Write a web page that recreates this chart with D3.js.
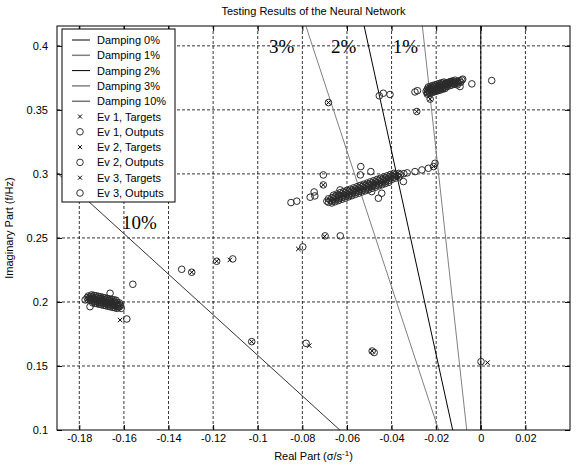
<!DOCTYPE html>
<html><head><meta charset="utf-8">
<script src="https://cdn.jsdelivr.net/npm/d3@7"></script>
<style>body{margin:0;background:#fff} text{font-family:Arial,"Liberation Sans",sans-serif;}</style>
</head><body><svg id="c" width="586" height="468"></svg>
<script>
const xTicks = [-0.18,-0.16,-0.14,-0.12,-0.1,-0.08,-0.06,-0.04,-0.02,0,0.02];
const yTicks = [0.1,0.15,0.2,0.25,0.3,0.35,0.4];
const legendLabels = ["Damping 0%","Damping 1%","Damping 2%","Damping 3%","Damping 10%",
  "Ev 1, Targets","Ev 1, Outputs","Ev 2, Targets","Ev 2, Outputs","Ev 3, Targets","Ev 3, Outputs"];
const dampingNames = ["0%","1%","2%","3%","10%"];
// endpoints of each constant-damping line [real, imag]
const dampingLines = [
  [[0,0.1],[0,0.4155]],
  [[-0.0063,0.1],[-0.0262,0.4155]],
  [[-0.0126,0.1],[-0.0523,0.4155]],
  [[-0.0189,0.1],[-0.0784,0.4155]],
  [[-0.0632,0.1],[-0.19,0.3009]]
];
const ev1Targets = [[-0.1755,0.2035],[-0.1735,0.2015],[-0.1715,0.2030],[-0.1700,0.2000],[-0.1685,0.2018],[-0.1670,0.1990],[-0.1655,0.2005],[-0.1640,0.1978],[-0.1625,0.1990],[-0.1720,0.2008],[-0.1690,0.1985],
  [-0.1617,0.1859],[-0.1296,0.2232],[-0.1184,0.2318],[-0.1125,0.2328],[-0.1027,0.1690],[-0.0769,0.1659],[-0.0487,0.1617],[0.0030,0.1526]];
const ev1Outputs = [
  [-0.1765,0.2033],[-0.1755,0.2029],[-0.1745,0.2025],[-0.1735,0.2021],[-0.1725,0.2018],[-0.1715,0.2014],[-0.1705,0.2010],[-0.1695,0.2006],[-0.1685,0.2002],[-0.1675,0.1998],[-0.1665,0.1994],[-0.1655,0.1990],[-0.1645,0.1987],[-0.1635,0.1983],[-0.1625,0.1979],[-0.1615,0.1975],
  [-0.1745,0.2055],[-0.1735,0.2051],[-0.1725,0.2048],[-0.1715,0.2044],[-0.1705,0.2040],[-0.1695,0.2036],[-0.1685,0.2032],[-0.1675,0.2028],[-0.1665,0.2024],[-0.1655,0.2020],[-0.1645,0.2017],[-0.1635,0.2013],
  [-0.1740,0.1993],[-0.1730,0.1989],[-0.1720,0.1986],[-0.1710,0.1982],[-0.1700,0.1978],[-0.1690,0.1974],[-0.1680,0.1970],[-0.1670,0.1966],[-0.1660,0.1962],[-0.1650,0.1958],[-0.1640,0.1954],[-0.1630,0.1950],
  [-0.1760,0.2046],[-0.1750,0.2042],[-0.1740,0.2038],[-0.1730,0.2034],[-0.1720,0.2031],[-0.1710,0.2027],[-0.1700,0.2023],[-0.1690,0.2019],[-0.1680,0.2015],[-0.1670,0.2011],[-0.1660,0.2007],[-0.1650,0.2003],[-0.1640,0.2000],[-0.1630,0.1996],[-0.1620,0.1992],
  [-0.1760,0.2016],[-0.1750,0.2012],[-0.1740,0.2008],[-0.1730,0.2004],[-0.1720,0.2001],[-0.1710,0.1997],[-0.1700,0.1993],[-0.1690,0.1989],[-0.1680,0.1985],[-0.1670,0.1981],[-0.1660,0.1977],[-0.1650,0.1973],[-0.1640,0.1970],[-0.1630,0.1966],[-0.1620,0.1962],
  [-0.1774,0.2016],[-0.1752,0.1963],[-0.1662,0.2068],[-0.1625,0.1963],[-0.1612,0.1950],
  [-0.1560,0.2138],[-0.1587,0.1867],[-0.1341,0.2255],[-0.1296,0.2232],[-0.1184,0.2318],[-0.1112,0.2336],[-0.1027,0.1690],[-0.0783,0.1677],[-0.0487,0.1617],[-0.0478,0.1605],[0.0001,0.1534]];
const ev2Targets = [[-0.0675,0.2790],[-0.0645,0.2812],[-0.0615,0.2830],[-0.0585,0.2848],[-0.0555,0.2870],[-0.0525,0.2887],[-0.0495,0.2905],[-0.0465,0.2925],[-0.0435,0.2942],[-0.0405,0.2962],[-0.0375,0.2980],
  [-0.0706,0.2914],[-0.0818,0.2414],[-0.0700,0.2512],[-0.0212,0.3057]];
const ev2Outputs = [
  [-0.0690,0.2787],[-0.0675,0.2796],[-0.0660,0.2806],[-0.0645,0.2815],[-0.0630,0.2825],[-0.0615,0.2834],[-0.0600,0.2844],[-0.0585,0.2853],[-0.0570,0.2863],[-0.0555,0.2872],[-0.0540,0.2882],[-0.0525,0.2891],[-0.0510,0.2900],[-0.0495,0.2910],[-0.0480,0.2919],[-0.0465,0.2929],[-0.0450,0.2938],[-0.0435,0.2948],[-0.0420,0.2957],[-0.0405,0.2967],[-0.0390,0.2976],[-0.0375,0.2985],[-0.0360,0.2995],
  [-0.0660,0.2834],[-0.0645,0.2843],[-0.0630,0.2853],[-0.0615,0.2862],[-0.0600,0.2872],[-0.0585,0.2881],[-0.0570,0.2891],[-0.0555,0.2900],[-0.0540,0.2910],[-0.0525,0.2919],[-0.0510,0.2928],[-0.0495,0.2938],[-0.0480,0.2947],[-0.0465,0.2957],[-0.0450,0.2966],[-0.0435,0.2976],[-0.0420,0.2985],[-0.0405,0.2995],[-0.0390,0.3004],
  [-0.06675,0.2773],[-0.06525,0.2783],[-0.06375,0.2792],[-0.06225,0.2802],[-0.06075,0.2811],[-0.05925,0.2821],[-0.05775,0.2830],[-0.05625,0.2840],[-0.05475,0.2849],[-0.05325,0.2859],[-0.05175,0.2868],[-0.05025,0.2877],[-0.04875,0.2887],[-0.04725,0.2896],[-0.04575,0.2906],[-0.04425,0.2915],[-0.04275,0.2925],[-0.04125,0.2934],
  [-0.06825,0.2806],[-0.06675,0.2815],[-0.06525,0.2825],[-0.06375,0.2834],[-0.06225,0.2844],[-0.06075,0.2853],[-0.05925,0.2863],[-0.05775,0.2872],[-0.05625,0.2882],[-0.05475,0.2891],[-0.05325,0.2901],[-0.05175,0.2910],[-0.05025,0.2919],[-0.04875,0.2929],[-0.04725,0.2938],[-0.04575,0.2948],[-0.04425,0.2957],[-0.04275,0.2967],[-0.04125,0.2976],[-0.03975,0.2986],[-0.03825,0.2995],[-0.03675,0.3004],
  [-0.06825,0.2778],[-0.06675,0.2787],[-0.06525,0.2797],[-0.06375,0.2806],[-0.06225,0.2816],[-0.06075,0.2825],[-0.05925,0.2835],[-0.05775,0.2844],[-0.05625,0.2854],[-0.05475,0.2863],[-0.05325,0.2873],[-0.05175,0.2882],[-0.05025,0.2891],[-0.04875,0.2901],[-0.04725,0.2910],[-0.04575,0.2920],[-0.04425,0.2929],[-0.04275,0.2939],[-0.04125,0.2948],[-0.03975,0.2958],[-0.03825,0.2967],[-0.03675,0.2976],
  [-0.0345,0.3002],[-0.0330,0.3008],
  [-0.0851,0.2776],[-0.0825,0.2787],[-0.0765,0.2818],[-0.0744,0.2828],[-0.0747,0.2859],[-0.0706,0.2992],[-0.0706,0.2914],[-0.0538,0.3057],[-0.0493,0.3018],[-0.0540,0.2992],[-0.0347,0.2940],[-0.0631,0.2875],[-0.0489,0.2862],[-0.0459,0.2810],[-0.0444,0.2849],[-0.0295,0.3018],[-0.0264,0.3031],[-0.0235,0.3044],[-0.0212,0.3057],[-0.0205,0.3083],[-0.0698,0.2516],[-0.0630,0.2516],[-0.0798,0.2430]];
const ev3Targets = [[-0.0240,0.3648],[-0.0220,0.3660],[-0.0200,0.3668],[-0.0180,0.3680],[-0.0160,0.3690],[-0.0140,0.3702],[-0.0120,0.3712],[-0.0100,0.3722],
  [-0.0287,0.3487],[-0.0683,0.3557],[-0.0227,0.3584]];
const ev3Outputs = [
  [-0.0245,0.3645],[-0.0235,0.3651],[-0.0225,0.3656],[-0.0215,0.3662],[-0.0205,0.3667],[-0.0195,0.3673],[-0.0185,0.3678],[-0.0175,0.3684],[-0.0165,0.3689],[-0.0155,0.3695],[-0.0145,0.3700],[-0.0135,0.3706],[-0.0125,0.3711],[-0.0115,0.3717],[-0.0105,0.3722],[-0.0095,0.3728],[-0.0085,0.3733],
  [-0.0235,0.3679],[-0.0225,0.3684],[-0.0215,0.3690],[-0.0205,0.3695],[-0.0195,0.3701],[-0.0185,0.3706],[-0.0175,0.3712],[-0.0165,0.3717],[-0.0155,0.3710],[-0.0145,0.3715],[-0.0135,0.3721],[-0.0125,0.3726],[-0.0115,0.3732],
  [-0.0240,0.3623],[-0.0230,0.3629],[-0.0220,0.3634],[-0.0210,0.3640],[-0.0200,0.3645],[-0.0190,0.3651],[-0.0180,0.3656],[-0.0170,0.3662],[-0.0160,0.3667],
  [-0.0240,0.3662],[-0.0230,0.3667],[-0.0220,0.3673],[-0.0210,0.3678],[-0.0200,0.3684],[-0.0190,0.3689],[-0.0180,0.3695],[-0.0170,0.3700],[-0.0160,0.3706],[-0.0150,0.3711],[-0.0140,0.3717],[-0.0130,0.3722],
  [-0.0240,0.3634],[-0.0230,0.3639],[-0.0220,0.3645],[-0.0210,0.3650],[-0.0200,0.3656],[-0.0190,0.3661],[-0.0180,0.3667],[-0.0170,0.3672],[-0.0160,0.3678],[-0.0150,0.3683],[-0.0140,0.3689],[-0.0130,0.3694],[-0.0120,0.3700],[-0.0110,0.3705],[-0.0100,0.3711],[-0.0090,0.3716],
  [-0.0455,0.3610],[-0.0437,0.3630],[-0.0407,0.3620],[-0.0295,0.3640],[-0.0284,0.3650],[-0.0287,0.3487],[-0.0227,0.3584],[-0.0683,0.3557],[-0.0123,0.3709],[-0.0093,0.3682],[-0.0081,0.3740],[-0.0040,0.3703],[0.0049,0.3729],[-0.0105,0.3695]];

const svg = d3.select("#c");
const L = 57, R = 570, T = 26, B = 430;
const x = d3.scaleLinear().domain([-0.19, 0.04]).range([L, R]);
const y = d3.scaleLinear().domain([0.1, 0.4155]).range([B, T]);
const fmt = d => String(+d.toFixed(2));

// grid
const grid = svg.append("g").attr("stroke", "#000").attr("stroke-width", 0.8).attr("stroke-dasharray", "3,2");
grid.selectAll(".gx").data(xTicks).join("line").attr("x1", d => x(d)).attr("x2", d => x(d)).attr("y1", T).attr("y2", B);
grid.selectAll(".gy").data(yTicks.filter(d => d > 0.1)).join("line").attr("x1", L).attr("x2", R).attr("y1", d => y(d)).attr("y2", d => y(d));

// axes
const ax = (g, fn) => g.call(fn).call(s => s.select(".domain").remove()).call(s => s.selectAll("text").attr("font-size", 11).attr("font-family", "Arial, Liberation Sans, sans-serif").attr("fill", "#000")).call(s => s.selectAll("line").attr("stroke", "#000"));
ax(svg.append("g").attr("transform", `translate(0,${B})`), d3.axisBottom(x).tickValues(xTicks).tickSize(-5).tickPadding(4).tickFormat(fmt));
ax(svg.append("g").attr("transform", `translate(0,${T})`), d3.axisTop(x).tickValues(xTicks).tickSize(-5).tickFormat(""));
ax(svg.append("g").attr("transform", `translate(${L},0)`), d3.axisLeft(y).tickValues(yTicks).tickSize(-5).tickPadding(9).tickFormat(fmt));
ax(svg.append("g").attr("transform", `translate(${R},0)`), d3.axisRight(y).tickValues(yTicks).tickSize(-5).tickFormat(""));

// damping lines
const lineColors = ["#000", "#808080", "#000", "#808080", "#333"];
const lineGen = d3.line().x(d => x(d[0])).y(d => y(d[1]));
svg.append("g").selectAll("path").data(dampingLines).join("path")
  .attr("d", lineGen).attr("fill", "none").attr("stroke", (d, i) => lineColors[i]).attr("stroke-width", 1);

// markers
const cross = s => `M${-s},${-s}L${s},${s}M${-s},${s}L${s},${-s}`;
const series = [[ev1Targets, "t"], [ev1Outputs, "o"], [ev2Targets, "t"], [ev2Outputs, "o"], [ev3Targets, "t"], [ev3Outputs, "o"]];
series.forEach(([data, kind]) => {
  const g = svg.append("g");
  if (kind === "o") {
    g.selectAll("circle").data(data).join("circle").attr("cx", d => x(d[0])).attr("cy", d => y(d[1]))
      .attr("r", 3.3).attr("fill", "none").attr("stroke", "#2a2a2a").attr("stroke-width", 1);
  } else {
    g.selectAll("path").data(data).join("path").attr("transform", d => `translate(${x(d[0])},${y(d[1])})`)
      .attr("d", cross(2.2)).attr("stroke", "#000").attr("stroke-width", 1).attr("fill", "none");
  }
});

// border
svg.append("rect").attr("x", L).attr("y", T).attr("width", R - L).attr("height", B - T).attr("fill", "none").attr("stroke", "#000");

// damping annotations
const ann = [["3%", -0.0949, 0.3945], ["2%", -0.0671, 0.3945], ["1%", -0.0395, 0.3945], ["10%", -0.1609, 0.2570]];
svg.append("g").selectAll("text").data(ann).join("text")
  .attr("x", d => x(d[1])).attr("y", d => y(d[2])).text(d => d[0])
  .attr("font-size", 19).style("font-family", "'Liberation Serif', 'Times New Roman', serif");

// legend
const lg = svg.append("g");
lg.append("rect").attr("x", 62).attr("y", 29).attr("width", 113).attr("height", 173).attr("fill", "#fff").attr("stroke", "#000");
legendLabels.forEach((lab, i) => {
  const yy = 40 + i * 15.3;
  if (i < 5) {
    lg.append("line").attr("x1", 72).attr("x2", 90).attr("y1", yy).attr("y2", yy).attr("stroke", lineColors[i]).attr("stroke-width", i % 2 ? 1.5 : 1);
  } else if ((i - 5) % 2 === 0) {
    lg.append("path").attr("transform", `translate(80,${yy})`).attr("d", cross(2)).attr("stroke", "#000").attr("fill", "none");
  } else {
    lg.append("circle").attr("cx", 80).attr("cy", yy).attr("r", 3.3).attr("fill", "none").attr("stroke", "#333");
  }
  lg.append("text").attr("x", 97).attr("y", yy + 4).attr("font-size", 11).text(lab);
});

// titles
svg.append("text").attr("x", (L + R) / 2).attr("y", 15).attr("text-anchor", "middle").attr("font-size", 11).text("Testing Results of the Neural Network");
const xl = svg.append("text").attr("x", (L + R) / 2).attr("y", 460).attr("text-anchor", "middle").attr("font-size", 11);
xl.append("tspan").text("Real Part (σ/s");
xl.append("tspan").attr("dy", -4).attr("font-size", 8).text("-1");
xl.append("tspan").attr("dy", 4).text(")");
svg.append("text").attr("transform", `translate(13,${(T + B) / 2}) rotate(-90)`).attr("text-anchor", "middle").attr("font-size", 11).text("Imaginary Part (f/Hz)");
</script></body></html>
